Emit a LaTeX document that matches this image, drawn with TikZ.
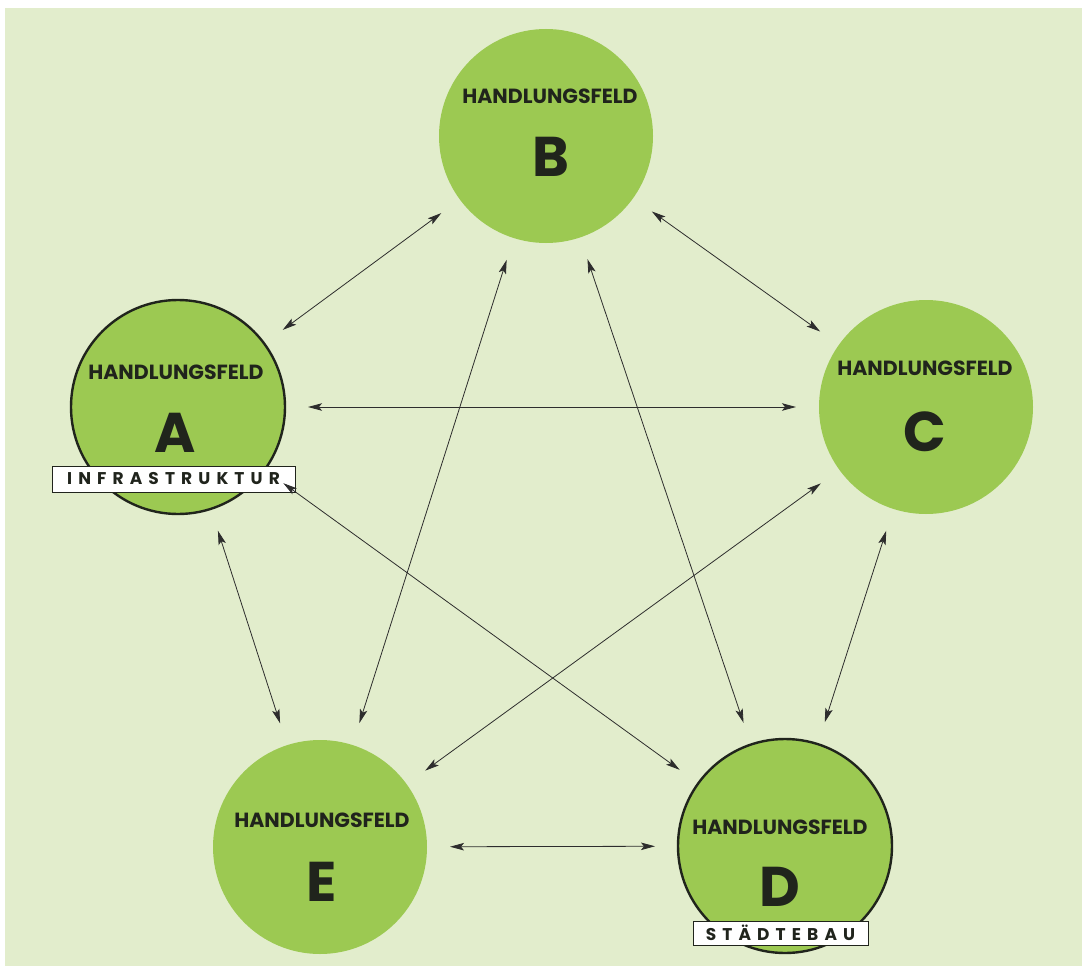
\documentclass[tikz,border=0pt]{standalone}
\usepackage{fontspec}
\setmainfont{Poppins}
\usetikzlibrary{arrows.meta}
\definecolor{bg}{RGB}{226,237,204}
\definecolor{leaf}{RGB}{156,201,82}
\definecolor{ink}{RGB}{32,36,28}
\definecolor{wire}{RGB}{45,45,45}
\tikzset{
  field/.style={circle, fill=leaf, minimum size=214pt, inner sep=0pt, outer sep=0pt},
  ringed/.style={field, draw=ink, line width=2.4pt},
  head/.style={text=ink, font=\fontsize{20.5}{20.5}\selectfont\bfseries, inner sep=0pt},
  letter/.style={text=ink, font=\fontsize{56}{56}\selectfont\bfseries, inner sep=0pt},
  tag/.style={draw=ink, line width=0.9pt, fill=white, text=ink, inner sep=0pt,
    font=\fontsize{17}{17}\selectfont\bfseries\addfontfeature{LetterSpace=36}},
  conn/.style={wire, line width=0.8pt, {Stealth[length=14pt,width=7.5pt,inset=3pt]}-{Stealth[length=14pt,width=7.5pt,inset=3pt]},
    shorten <=23pt, shorten >=23pt}
}
\begin{document}
\begin{tikzpicture}[x=1pt,y=-1pt]
\useasboundingbox (0,0) rectangle (1082,966);
\fill[bg] (5,8) rectangle (1082,966);
% circles
\node[ringed] (A) at (178,407) {};
\node[field]  (B) at (546,136) {};
\node[field]  (C) at (926,407) {};
\node[ringed] (D) at (785,846) {};
\node[field]  (E) at (320,847) {};
% texts
\node[head] (hA) at (176,372) {HANDLUNGSFELD};
\node[letter] (lA) at (175,433) {A};
\node[head] (hB) at (550,96) {HANDLUNGSFELD};
\node[letter] (lB) at (551,157) {B};
\node[head] (hC) at (925,368) {HANDLUNGSFELD};
\node[letter] (lC) at (925,432) {C};
\node[head] (hD) at (780,827) {HANDLUNGSFELD};
\node[letter] (lD) at (780,887) {D};
\node[head] (hE) at (322,820) {HANDLUNGSFELD};
\node[letter] (lE) at (322,882) {E};
% tags
\node[tag, minimum width=243pt, minimum height=26pt] (tA) at (173.5,479) {INFRASTRUKTUR};
\node[tag, minimum width=175pt, minimum height=24pt] (tD) at (780.5,933) {STÄDTEBAU};
% connectors
\draw[conn] (A) -- (B);
\draw[conn] (B) -- (C);
\draw[conn] (A) -- (C);
\draw[conn] (A) -- (E);
\draw[conn] (B) -- (E);
\draw[conn] (B) -- (D);
\draw[conn] (C) -- (E);
\draw[conn] (A) -- (D);
\draw[conn] (C) -- (D);
\draw[conn] (E) -- (D);
\end{tikzpicture}
\end{document}
